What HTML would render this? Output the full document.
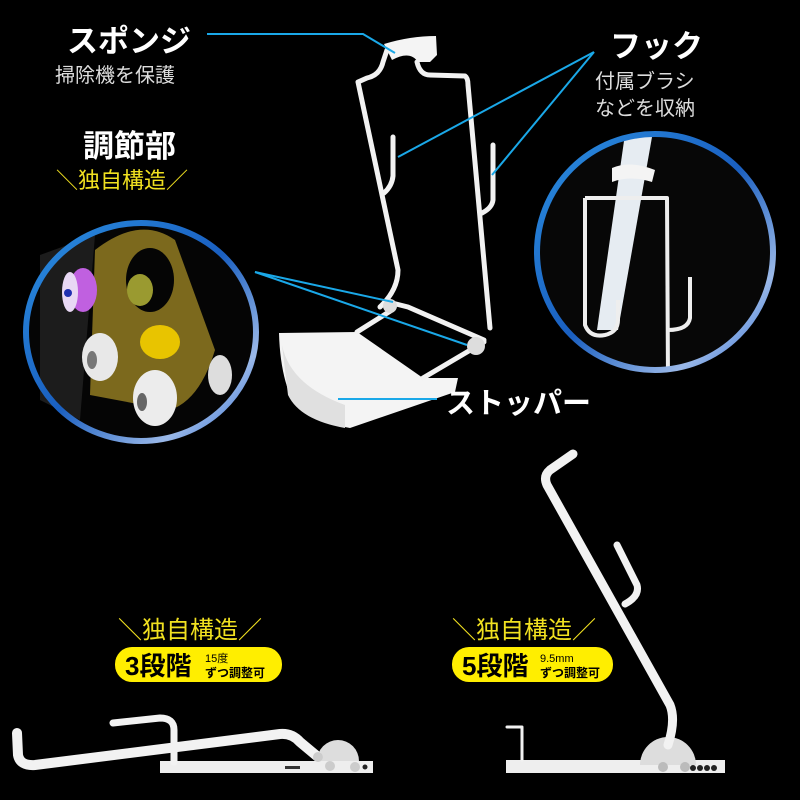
<!DOCTYPE html>
<html><head><meta charset="utf-8"><style>
html,body{margin:0;padding:0;background:#000;}
svg{display:block}
text{font-family:"Liberation Sans","Noto Sans CJK JP",sans-serif;}
</style></head><body>
<svg width="800" height="800" viewBox="0 0 800 800" xmlns="http://www.w3.org/2000/svg">
<defs>
<linearGradient id="ring" x1="0" y1="0" x2="1" y2="1">
<stop offset="0" stop-color="#2a8ee0"/><stop offset="0.5" stop-color="#1a5fc0"/><stop offset="0.8" stop-color="#9ab8e8"/><stop offset="1" stop-color="#2a6ad0"/>
</linearGradient>
<clipPath id="rc"><circle cx="655" cy="252" r="116"/></clipPath>
</defs>
<rect width="800" height="800" fill="#000"/>

<!-- left circle -->
<g>
<ellipse cx="141" cy="332" rx="116" ry="110" fill="#050505"/>
<path d="M40 255 L95 235 L80 420 L40 400 Z" fill="#1c1c1c"/>
<path d="M95 250 Q140 215 175 240 L215 350 Q200 400 170 410 L90 395 Z" fill="#8a7420" opacity="0.9"/>
<ellipse cx="150" cy="280" rx="24" ry="32" fill="#050505"/>
<ellipse cx="140" cy="290" rx="13" ry="16" fill="#9a9a30"/>
<ellipse cx="160" cy="342" rx="20" ry="17" fill="#e8c400"/>
<ellipse cx="83" cy="290" rx="14" ry="22" fill="#c060e0"/>
<ellipse cx="70" cy="292" rx="8" ry="20" fill="#e8d8f4"/>
<circle cx="68" cy="293" r="4" fill="#2030b0"/>
<ellipse cx="100" cy="357" rx="18" ry="24" fill="#e8e8e8"/>
<ellipse cx="92" cy="360" rx="5" ry="9" fill="#777"/>
<ellipse cx="155" cy="398" rx="22" ry="28" fill="#ececec"/>
<ellipse cx="142" cy="402" rx="5" ry="9" fill="#666"/>
<ellipse cx="220" cy="375" rx="12" ry="20" fill="#ddd"/>
<ellipse cx="141" cy="332" rx="115" ry="109" fill="none" stroke="url(#ring)" stroke-width="6"/>
</g>

<!-- right circle -->
<g>
<circle cx="655" cy="252" r="119" fill="#070707"/>
<g clip-path="url(#rc)">
<path d="M627 120 L655 120 L618 330 L597 330 Z" fill="#e6ecf2"/>
<path d="M612 168 Q630 160 655 170 L652 182 Q630 175 612 182 Z" fill="#f4f4f4"/>
<g fill="none" stroke="#eee" stroke-width="4" stroke-linejoin="round">
<path d="M585 198 L585 325 Q590 338 605 335 Q618 332 618 320 L618 300"/>
<path d="M585 198 L667 198 L668 380"/>
<path d="M690 277 L690 318 Q688 330 668 330"/>
</g>
</g>
<circle cx="655" cy="252" r="118" fill="none" stroke="url(#ring)" stroke-width="6"/>
</g>

<!-- stopper tray -->
<path d="M279 333 L357 332 L423 378 L458 378 L455 392 L350 428 Q305 420 290 395 Q280 370 279 333 Z" fill="#f4f4f4"/>
<path d="M282 345 Q290 385 345 405 L345 428 Q300 420 288 395 Z" fill="#e0e0e0"/>
<!-- main frame -->
<g fill="none" stroke="#f2f2f2" stroke-width="5" stroke-linejoin="round" stroke-linecap="round">
<path d="M380 307 Q398 290 398 270 L358 82 L367 78 Q380 75 383 62 L387 50"/>
<path d="M417 62 Q420 75 430 75 L465 76 Q468 78 468 85 L490 328"/>
<path d="M393 137 L393 176 Q392 186 384 193"/>
<path d="M493 145 L493 200 Q492 208 482 213"/>
<path d="M392 303 L408 307 L484 340"/>
<path d="M357 332 L392 310"/>
<path d="M423 378 L484 342"/>
</g>
<path d="M384 44 Q410 36 436 36 L437 55 L430 62 L418 62 Q410 50 392 60 Z" fill="#f4f4f4"/>
<circle cx="390" cy="306" r="7" fill="#ddd"/>
<circle cx="476" cy="346" r="9" fill="#ddd"/>

<!-- blue leader lines -->
<g stroke="#1aa8e8" stroke-width="2" fill="none">
<path d="M207 34 L363 34 L395 53"/>
<path d="M594 52 L398 157"/>
<path d="M594 52 L492 175"/>
<path d="M255 272 L393 302"/>
<path d="M255 272 L467 345"/>
<path d="M338 399 L437 399"/>
</g>

<!-- labels -->
<text x="67" y="52" fill="#fff" font-size="31" font-weight="bold">スポンジ</text>
<text x="55" y="82" fill="#ddd" font-size="20">掃除機を保護</text>
<text x="610" y="57" fill="#fff" font-size="31" font-weight="bold">フック</text>
<text x="595" y="88" fill="#ddd" font-size="20">付属ブラシ</text>
<text x="595" y="115" fill="#ddd" font-size="20">などを収納</text>
<text x="83" y="157" fill="#fff" font-size="31" font-weight="bold">調節部</text>
<text x="56" y="188" fill="#f0e020" font-size="22">＼独自構造／</text>
<text x="446" y="413" fill="#fff" font-size="29" font-weight="bold">ストッパー</text>

<!-- bottom badges -->
<text x="118" y="638" fill="#f0e020" font-size="24">＼独自構造／</text>
<rect x="115" y="647" width="167" height="35" rx="17" fill="#ffee00"/>
<text x="125" y="675" fill="#000" font-size="26" font-weight="bold">3段階</text>
<text x="205" y="662" fill="#000" font-size="11">15度</text>
<text x="205" y="677" fill="#000" font-size="12" font-weight="bold">ずつ調整可</text>

<text x="452" y="638" fill="#f0e020" font-size="24">＼独自構造／</text>
<rect x="452" y="647" width="161" height="35" rx="17" fill="#ffee00"/>
<text x="462" y="675" fill="#000" font-size="26" font-weight="bold">5段階</text>
<text x="540" y="662" fill="#000" font-size="11">9.5mm</text>
<text x="540" y="677" fill="#000" font-size="12" font-weight="bold">ずつ調整可</text>

<!-- bottom-left stand -->
<rect x="160" y="761" width="213" height="12" fill="#eee"/>
<path d="M317 761 A21 21 0 0 1 359 761 Z" fill="#ddd"/>
<g fill="none" stroke="#f2f2f2" stroke-linejoin="round" stroke-linecap="round">
<path d="M17 733 L18 755 Q20 766 35 765 L280 734 Q292 733 300 742 L318 757" stroke-width="10"/>
<path d="M113 723 L160 718 Q174 718 174 730 L174 762" stroke-width="7"/>
</g>
<circle cx="318" cy="757" r="5" fill="#ccc"/><circle cx="330" cy="766" r="5" fill="#ccc"/><circle cx="355" cy="767" r="5" fill="#ccc"/>
<rect x="285" y="766" width="15" height="3" fill="#333"/>
<circle cx="365" cy="767" r="2.5" fill="#222"/>

<!-- bottom-right stand -->
<rect x="506" y="760" width="219" height="13" fill="#eee"/>
<path d="M640 765 A28 28 0 0 1 696 765 Z" fill="#ddd"/>
<g fill="none" stroke="#f2f2f2" stroke-linejoin="round" stroke-linecap="round">
<path d="M573 454 L550 470 Q543 476 547 485 L670 705 Q676 720 668 745" stroke-width="9"/>
<path d="M617 545 L637 585 Q640 596 625 604" stroke-width="7"/>
<path d="M507 727 L522 727 L522 760" stroke-width="3"/>
</g>
<circle cx="663" cy="767" r="5" fill="#bbb"/><circle cx="685" cy="767" r="5" fill="#bbb"/>
<g fill="#222"><circle cx="693" cy="768" r="3"/><circle cx="700" cy="768" r="3"/><circle cx="707" cy="768" r="3"/><circle cx="714" cy="768" r="3"/></g>
</svg>
</body></html>
